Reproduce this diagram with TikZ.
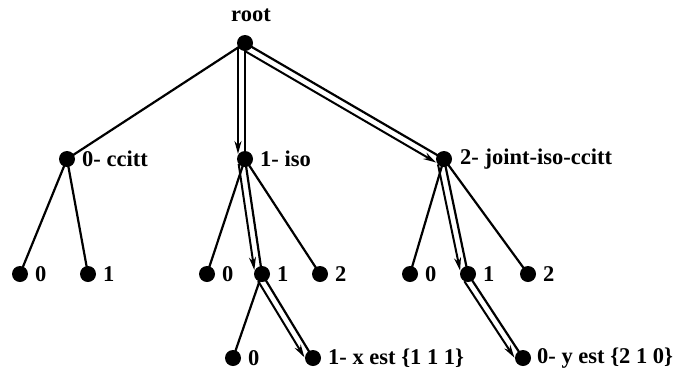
\documentclass[tikz,border=0pt]{standalone}
\usepackage{fontspec}
\setmainfont{Liberation Serif}
\usetikzlibrary{calc,arrows.meta}
\begin{document}
\begin{tikzpicture}[x=1pt,y=-1pt,
  dot/.style={circle,fill=black,inner sep=0pt,minimum size=16pt},
  lbl/.style={anchor=west,inner sep=0pt,font=\fontsize{22.5}{25}\selectfont\bfseries},
  edge/.style={line width=2.2pt},
  pathedge/.style={line width=2pt,-{Stealth[length=13pt,width=7pt]}}]
\useasboundingbox (0,0) rectangle (687,373);
\node[dot] (r) at (245,43) {};
\node[font=\fontsize{22.5}{25}\selectfont\bfseries] (rl) at (251,15) {root};
\node[dot] (a) at (67,159) {};
\node[dot] (b) at (245,159) {};
\node[dot] (c) at (444,159) {};
\node[dot] (a0) at (20,274) {};
\node[dot] (a1) at (88,274) {};
\node[dot] (b0) at (207,274) {};
\node[dot] (b1) at (262,274) {};
\node[dot] (b2) at (320,274) {};
\node[dot] (c0) at (410,274) {};
\node[dot] (c1) at (468,274) {};
\node[dot] (c2) at (528,274) {};
\node[dot] (d0) at (233,358) {};
\node[dot] (d1) at (313,358) {};
\node[dot] (e0) at (523,358) {};
\node[lbl] (al) at ($(a)+(15,0)$) {0- ccitt};
\node[lbl] (bl) at ($(b)+(15,0)$) {1- iso};
\node[lbl] (cl) at ($(c)+(16,0)$) {2- joint-iso-ccitt};
\node[lbl] (a0l) at ($(a0)+(15,0)$) {0};
\node[lbl] (a1l) at ($(a1)+(15,0)$) {1};
\node[lbl] (b0l) at ($(b0)+(15,0)$) {0};
\node[lbl] (b1l) at ($(b1)+(15,0)$) {1};
\node[lbl] (b2l) at ($(b2)+(15,0)$) {2};
\node[lbl] (c0l) at ($(c0)+(15,0)$) {0};
\node[lbl] (c1l) at ($(c1)+(15,0)$) {1};
\node[lbl] (c2l) at ($(c2)+(15,0)$) {2};
\node[lbl] (d0l) at ($(d0)+(15,0)$) {0};
\node[lbl] (d1l) at ($(d1)+(15,0)$) {1- x est \{1 1 1\}};
\node[lbl] (e0l) at ($(e0)+(14,0)$) {0- y est \{2 1 0\}};
\foreach \u/\v in {r/a,r/b,r/c,a/a0,a/a1,b/b0,b/b1,b/b2,c/c0,c/c1,c/c2,b1/d0,b1/d1,c1/e0}
  \draw[edge] (\u.center) -- (\v.center);
\foreach \u/\v in {r/b,r/c,b/b1,b1/d1,c/c1,c1/e0}
  \draw[pathedge,shorten <=4pt,shorten >=5pt] ($(\u.center)!7pt!-90:(\v.center)$) -- ($(\v.center)!7pt!90:(\u.center)$);
\end{tikzpicture}
\end{document}
